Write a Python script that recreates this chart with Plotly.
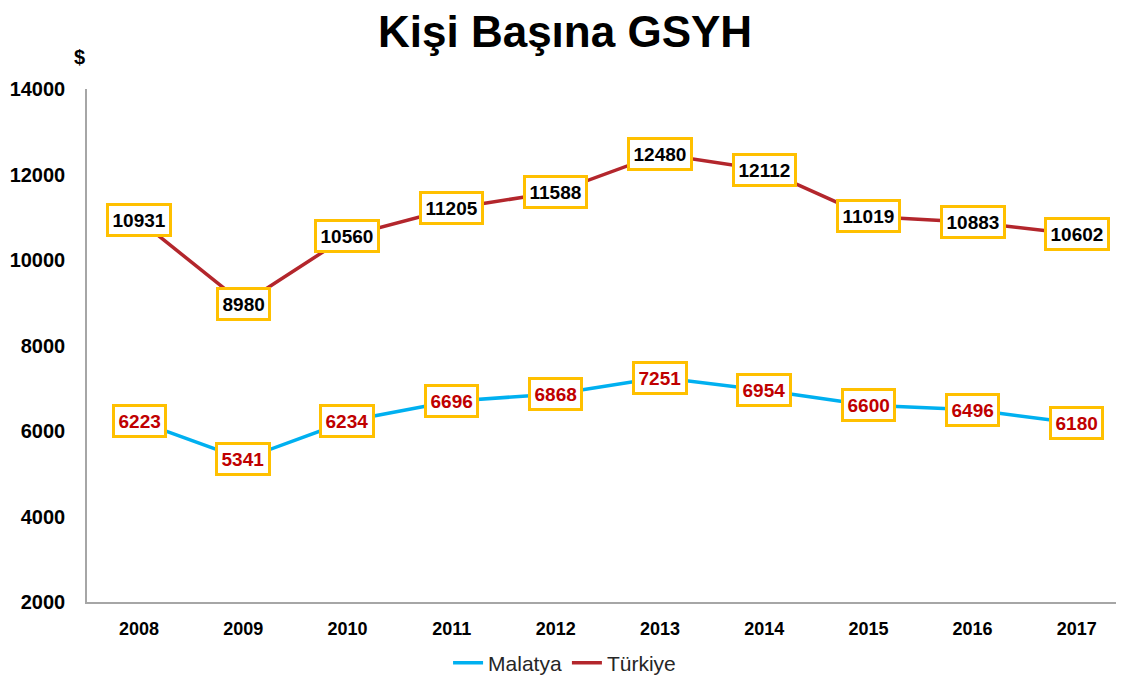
import plotly.graph_objects as go

years = ["2008", "2009", "2010", "2011", "2012", "2013", "2014", "2015", "2016", "2017"]
malatya = [6223, 5341, 6234, 6696, 6868, 7251, 6954, 6600, 6496, 6180]
turkiye = [10931, 8980, 10560, 11205, 11588, 12480, 12112, 11019, 10883, 10602]
y_ticks = [2000, 4000, 6000, 8000, 10000, 12000, 14000]

FONT = "Liberation Sans, Arial, sans-serif"

fig = go.Figure()
fig.add_trace(go.Scatter(x=years, y=malatya, name="Malatya", mode="lines",
                         line=dict(color="#00B0F0", width=3.5)))
fig.add_trace(go.Scatter(x=years, y=turkiye, name="Türkiye", mode="lines",
                         line=dict(color="#B3262C", width=3.5)))

for i, v in enumerate(turkiye):
    fig.add_annotation(x=i, y=v, xref="x", yref="y", text=f"<b>{v}</b>", showarrow=False,
                       font=dict(family=FONT, size=19, color="#000000"),
                       bgcolor="white", bordercolor="#FFC000", borderwidth=3, borderpad=3.5)
for i, v in enumerate(malatya):
    fig.add_annotation(x=i, y=v, xref="x", yref="y", text=f"<b>{v}</b>", showarrow=False,
                       font=dict(family=FONT, size=19, color="#C00000"),
                       bgcolor="white", bordercolor="#FFC000", borderwidth=3, borderpad=3.5)

fig.add_annotation(x=-0.007, y=1.062, xref="paper", yref="paper", text="<b>$</b>",
                   showarrow=False, xanchor="center", yanchor="middle",
                   font=dict(family=FONT, size=20, color="#000000"))

fig.update_layout(
    width=1124, height=680,
    margin=dict(l=79, r=0, t=81, b=86, autoexpand=False),
    paper_bgcolor="white", plot_bgcolor="white",
    title=dict(text="<b>Kişi Başına GSYH</b>", x=0.4956, xanchor="center",
               yref="container", y=0.965, yanchor="middle",
               font=dict(family=FONT, size=44, color="#000000")),
    showlegend=True,
    legend=dict(orientation="h", x=0.457, xanchor="center", y=-0.119, yanchor="middle",
                font=dict(family=FONT, size=21, color="#262626")),
    xaxis=dict(type="category", range=[-0.5, 9.53], showgrid=False, zeroline=False,
               showline=True, linecolor="#A6A6A6", linewidth=1.5, ticks="", automargin=False,
               tickvals=years, ticktext=[f"<b>{y}</b>" for y in years],
               tickfont=dict(family=FONT, size=18, color="#000000"), ticklabelstandoff=10),
    yaxis=dict(range=[2000, 14000], showgrid=False, zeroline=False, automargin=False,
               showline=True, linecolor="#A6A6A6", linewidth=1.5, ticks="",
               tickvals=y_ticks, ticktext=[f"<b>{v}</b>" for v in y_ticks],
               tickfont=dict(family=FONT, size=20, color="#000000"), ticklabelstandoff=16),
)

fig.write_html("out.html")
